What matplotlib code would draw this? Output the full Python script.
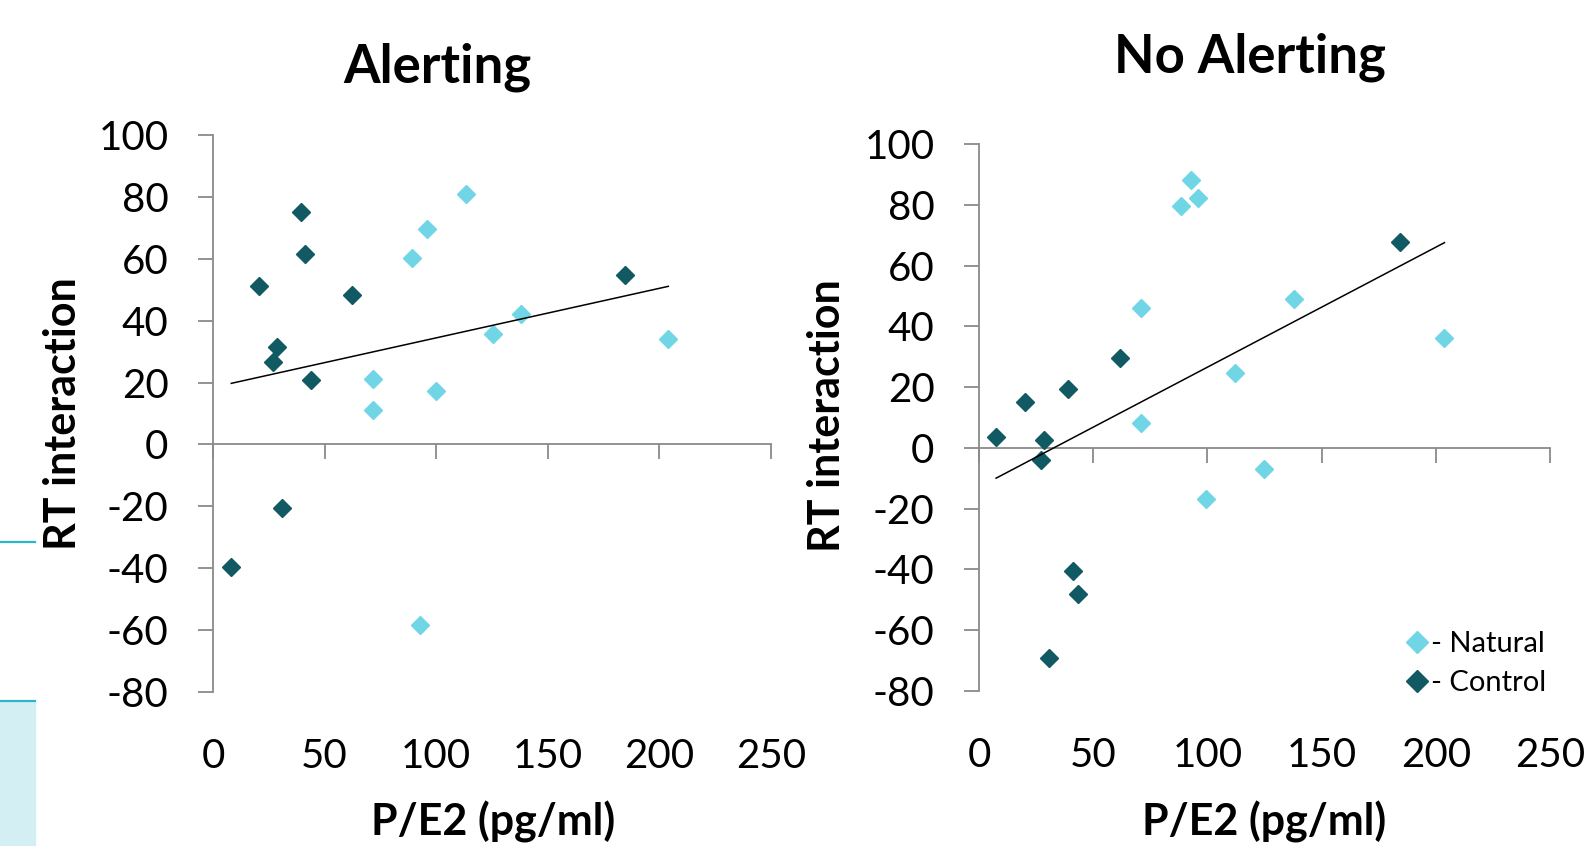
import numpy as np
import matplotlib
matplotlib.use("Agg")
import matplotlib.pyplot as plt
from matplotlib.lines import Line2D
from matplotlib.patches import Rectangle

plt.rcParams["font.family"] = ["Lato", "DejaVu Sans"]
plt.rcParams["axes.unicode_minus"] = False

# -----------------------------
# Data
# -----------------------------
# Alerting panel
alert_nat_x = [113.2, 95.9, 89.0, 138.0, 125.5, 204.0, 71.8, 100.0, 71.8, 92.7]
alert_nat_y = [81.0, 69.5, 60.3, 42.3, 35.7, 34.0, 21.0, 17.4, 11.1, -58.4]
alert_ctl_x = [39.5, 41.4, 20.5, 62.3, 184.5, 28.6, 26.8, 44.0, 30.9, 8.2]
alert_ctl_y = [75.0, 61.6, 51.1, 48.2, 54.8, 31.5, 26.6, 20.7, -20.7, -39.7]

# No Alerting panel
noalert_nat_x = [92.8, 88.4, 95.9, 71.0, 138.1, 203.8, 112.3, 71.0, 124.8, 99.5]
noalert_nat_y = [88.0, 79.6, 82.3, 45.9, 48.9, 36.2, 24.5, 8.2, -6.9, -16.9]
noalert_ctl_x = [184.3, 61.7, 39.1, 20.0, 7.5, 28.4, 27.1, 41.3, 43.5, 30.6]
noalert_ctl_y = [67.6, 29.5, 19.5, 15.2, 3.5, 2.5, -3.9, -40.6, -48.0, -69.3]

x_ticks = [0, 50, 100, 150, 200, 250]
y_ticks = [-80, -60, -40, -20, 0, 20, 40, 60, 80, 100]

NATURAL = "#70D6E6"
CONTROL = "#115963"
AXIS = "#8A8A8A"

W, H = 1591, 846


def fx(px):
    return px / W


def fy(py):
    return 1 - py / H


def draw_panel(ax, nat_x, nat_y, ctl_x, ctl_y):
    ax.set_xlim(0, 250)
    ax.set_ylim(-80, 100)

    ax.plot(nat_x, nat_y, "D", color=NATURAL, markersize=8.7, zorder=3,
            label="- Natural", clip_on=False)
    ax.plot(ctl_x, ctl_y, "D", color=CONTROL, markersize=8.7, zorder=3,
            label="- Control", clip_on=False)

    # linear trendline over both groups
    all_x = np.array(nat_x + ctl_x)
    all_y = np.array(nat_y + ctl_y)
    fit = np.polyfit(all_x, all_y, 1)
    xs = np.array([all_x.min(), all_x.max()])
    ax.plot(xs, np.polyval(fit, xs), color="black", lw=1.1, zorder=4)

    for s in ["top", "right"]:
        ax.spines[s].set_visible(False)
    ax.spines["left"].set_color(AXIS)
    ax.spines["left"].set_linewidth(1.3)
    ax.spines["bottom"].set_color(AXIS)
    ax.spines["bottom"].set_linewidth(1.3)
    ax.spines["bottom"].set_position(("data", 0))

    ax.set_yticks(y_ticks)
    ax.tick_params(axis="y", direction="out", length=11, width=1.3,
                   color=AXIS, labelsize=29, pad=21)
    ax.set_xticks(x_ticks)
    ax.tick_params(axis="x", direction="out", length=11, width=1.3,
                   color=AXIS, labelbottom=False)

    # tick labels sit low, below the plot area
    sec = ax.secondary_xaxis("bottom")
    sec.spines["bottom"].set_visible(False)
    sec.set_xticks(x_ticks)
    sec.tick_params(length=0, labelsize=29, pad=33)


fig = plt.figure(figsize=(W / 100, H / 100), dpi=100)

ax1 = fig.add_axes([fx(213), fy(692), fx(771) - fx(213), fy(135) - fy(692)])
ax2 = fig.add_axes([fx(979), fy(691), fx(1550) - fx(979), fy(144) - fy(691)])

draw_panel(ax1, alert_nat_x, alert_nat_y, alert_ctl_x, alert_ctl_y)
draw_panel(ax2, noalert_nat_x, noalert_nat_y, noalert_ctl_x, noalert_ctl_y)

# titles and axis labels
fig.text(fx(437), fy(83), "Alerting", ha="center", va="baseline",
         fontsize=38, fontweight="bold")
fig.text(fx(1250), fy(72), "No Alerting", ha="center", va="baseline",
         fontsize=38, fontweight="bold")
for cx in [493, 1264]:
    fig.text(fx(cx), fy(835), "P/E2 (pg/ml)", ha="center", va="baseline",
             fontsize=31, fontweight="bold")
for cx, cy in [(63, 414), (827, 416)]:
    fig.text(fx(cx), fy(cy), "RT interaction", ha="center", va="center",
             rotation=90, fontsize=31, fontweight="bold")

# legend (right panel)
leg = ax2.legend(loc="upper left", bbox_to_anchor=(fx(1405), fy(631)),
                 bbox_transform=fig.transFigure, frameon=False,
                 fontsize=21, handlelength=0.8, handletextpad=0.1,
                 labelspacing=0.45, borderpad=0, borderaxespad=0,
                 markerscale=1.3)

# slide decoration on the left edge
fig.add_artist(Line2D([0, fx(35)], [fy(542), fy(542)], color="#2DB6CA",
                      lw=1.6, transform=fig.transFigure))
fig.add_artist(Rectangle((0, 0), fx(35), fy(701), color="#D4EFF3",
                         transform=fig.transFigure, zorder=0))
fig.add_artist(Line2D([0, fx(35)], [fy(701), fy(701)], color="#2DB6CA",
                      lw=1.6, transform=fig.transFigure))

fig.savefig("out.png", dpi=100)
